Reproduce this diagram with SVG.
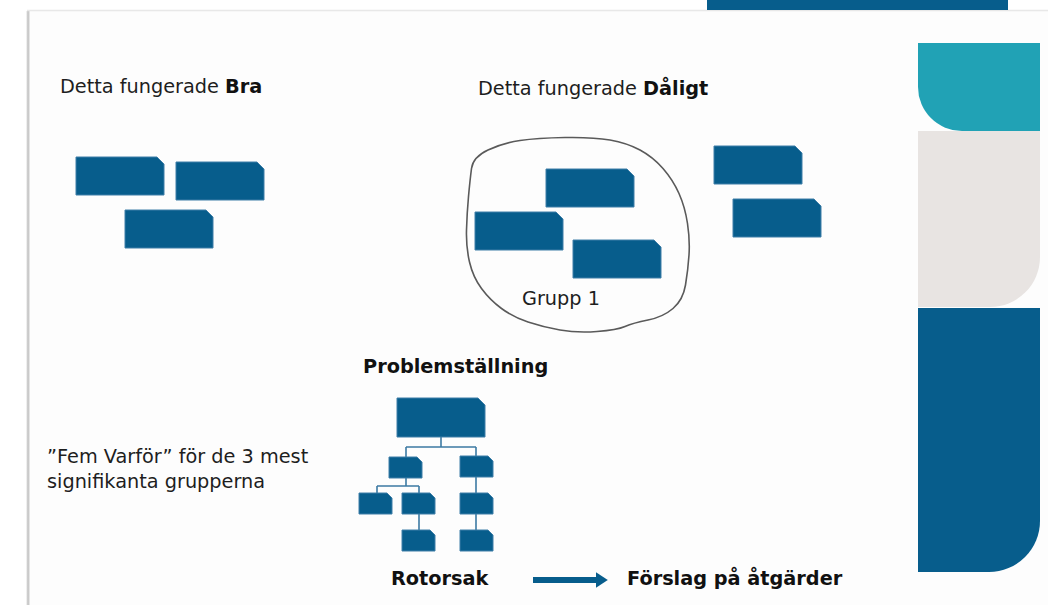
<svg xmlns="http://www.w3.org/2000/svg" width="1048" height="605" viewBox="0 0 1048 605">
<style>
  .t{font-family:"DejaVu Sans","Verdana",sans-serif;font-size:19.3px;fill:#1e1e1e}
  .b{font-weight:bold;fill:#111}
  .card{fill:#075d8c;stroke:#3f7fa8;stroke-width:1}
  .ln{stroke:#3c7aa3;stroke-width:1.6;fill:none}
</style>
<defs>
  <path id="big" d="M0,0 H81 L88,7 V38 H0 Z"/>
  <path id="sm" d="M0,0 H28 L33,5 V21 H0 Z"/>
  <linearGradient id="sh" x1="0" x2="1" y1="0" y2="0">
    <stop offset="0" stop-color="#ffffff"/>
    <stop offset="0.5" stop-color="#bdbdbd"/>
    <stop offset="1" stop-color="#f2f2f2"/>
  </linearGradient>
  <marker id="ah" markerWidth="2" markerHeight="2.6" refX="0.2" refY="1.3" orient="auto" markerUnits="strokeWidth">
    <path d="M0,0 L2,1.3 L0,2.6 Z" fill="#075d8c"/>
  </marker>
</defs>
<rect width="1048" height="605" fill="#ffffff"/>
<!-- slide frame -->
<rect x="28" y="11" width="1020" height="594" fill="#fdfdfd"/>
<rect x="26" y="11" width="4" height="594" fill="url(#sh)"/>
<line x1="27" y1="10.5" x2="1048" y2="10.5" stroke="#e8e8e8" stroke-width="1.5"/>
<rect x="707" y="0" width="301" height="10" fill="#075d8c"/>
<!-- right decorative panel -->
<g id="panel">
  <path d="M918,43 H1040 V131 H962 A44,44 0 0 1 918,87 Z" fill="#21a2b5"/>
  <path d="M918,131 H1040 V257 A50,50 0 0 1 990,307 H918 Z" fill="#e8e4e2"/>
  <path d="M918,308 H1040 V521 A51,51 0 0 1 989,572 H918 Z" fill="#075d8c"/>
</g>
<!-- headings -->
<text class="t" x="60" y="93">Detta fungerade <tspan class="b">Bra</tspan></text>
<text class="t" x="478" y="95">Detta fungerade <tspan class="b">Dåligt</tspan></text>
<!-- Bra cards -->
<g id="bra">
  <use href="#big" class="card" x="76" y="157"/>
  <use href="#big" class="card" x="176" y="162"/>
  <use href="#big" class="card" x="125" y="210"/>
</g>
<!-- group 1 -->
<g id="grupp1">
  <path d="M488,150 Q503,143 520,140.5 Q537,138 565,137.5 Q593,137 610,140 Q627,143 640,150 Q653,157 663,168.5 Q673,180 679,193.5 Q685,207 687.5,223.5 Q690,240 689,255 Q688,270 685.5,285 Q683,300 673,308.5 Q663,317 648,320 Q633,323 625,326.5 Q617,330 597,331.5 Q577,333 560,330 Q543,327 528,322 Q513,317 501.5,308.5 Q490,300 481.5,288.5 Q473,277 469.5,262 Q466,247 466.5,230 Q467,213 468.5,196.5 Q470,180 471.5,168.5 Q473,157 488,150 Z" fill="none" stroke="#5a5a5a" stroke-width="1.6"/>
  <use href="#big" class="card" x="546" y="169"/>
  <use href="#big" class="card" x="475" y="212"/>
  <use href="#big" class="card" x="573" y="240"/>
  <text class="t" x="522" y="305">Grupp 1</text>
</g>
<g id="daligt">
  <use href="#big" class="card" x="714" y="146"/>
  <use href="#big" class="card" x="733" y="199"/>
</g>
<!-- problem tree -->
<text class="t b" x="363" y="373">Problemställning</text>
<g id="connectors">
  <path class="ln" d="M441,437 V447 M406,447 H476 M406,447 V457 M476,447 V457"/>
  <path class="ln" d="M406,478 V486 M377,486 H419 M377,486 V493 M419,486 V493"/>
  <path class="ln" d="M476,477 V493 M419,513 V530 M476,513 V530"/>
  <line x1="533" y1="580" x2="597" y2="580" stroke="#075d8c" stroke-width="6" marker-end="url(#ah)"/>
</g>
<g id="tree">
  <path d="M397,398 H478 L485,405 V437 H397 Z" class="card"/>
  <use href="#sm" class="card" x="389" y="457"/>
  <use href="#sm" class="card" x="460" y="456"/>
  <use href="#sm" class="card" x="359" y="493"/>
  <use href="#sm" class="card" x="402" y="493"/>
  <use href="#sm" class="card" x="460" y="493"/>
  <use href="#sm" class="card" x="402" y="530"/>
  <use href="#sm" class="card" x="460" y="530"/>
</g>
<text class="t" x="47" y="463">”Fem Varför” för de 3 mest</text>
<text class="t" x="47" y="488">signifikanta grupperna</text>
<text class="t b" x="391" y="585">Rotorsak</text>
<text class="t b" x="627" y="585">Förslag på åtgärder</text>
</svg>
